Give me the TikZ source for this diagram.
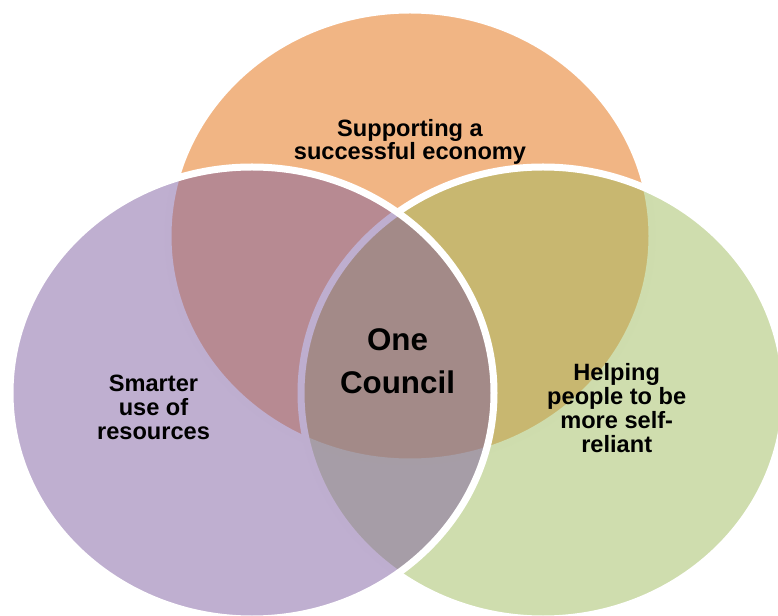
\documentclass[tikz,border=0pt]{standalone}
\usepackage{fontspec}
\setmainfont{Liberation Sans}

\definecolor{ringorange}{RGB}{228,108,10}
\definecolor{ringpurple}{RGB}{127,95,161}
\definecolor{ringgreen}{RGB}{159,187,93}

\tikzset{
  ring/.style={draw=white, line width=5.25pt, fill opacity=0.5},
  ringtext/.style={align=center, anchor=base, inner sep=0pt,
    font=\fontsize{17.7pt}{17.8pt}\selectfont\bfseries},
}

\begin{document}
\begin{tikzpicture}[x=0.75pt,y=0.75pt,yscale=-1]
\useasboundingbox (0,0) rectangle (778,616);
\clip (0,0) rectangle (778,616);

%Shape: Ellipse, economy
\draw [ring, fill=ringorange] (410,236) ellipse [x radius=242, y radius=226];
% Text Node
\node [ringtext, font=\fontsize{17.7pt}{16.3pt}\selectfont\bfseries] (economy) at (410,160) {Supporting a\\successful economy};

%Shape: Ellipse, self-reliance
\draw [ring, fill=ringgreen] (543,393) ellipse [x radius=242, y radius=226];

%Shape: Ellipse, resources
\draw [ring, fill=ringpurple] (252,393) ellipse [x radius=242, y radius=226];

% Text Node
\node [ringtext] (resources) at (153.5,439) {Smarter\\use of\\resources};
% Text Node
\node [ringtext] (reliant) at (616.7,452) {Helping\\people to be\\more self-\\reliant};
% Text Node
\node [ringtext, font=\fontsize{23.5pt}{32pt}\selectfont\bfseries] (council) at (397.5,393.3) {One\\Council};

\end{tikzpicture}
\end{document}
